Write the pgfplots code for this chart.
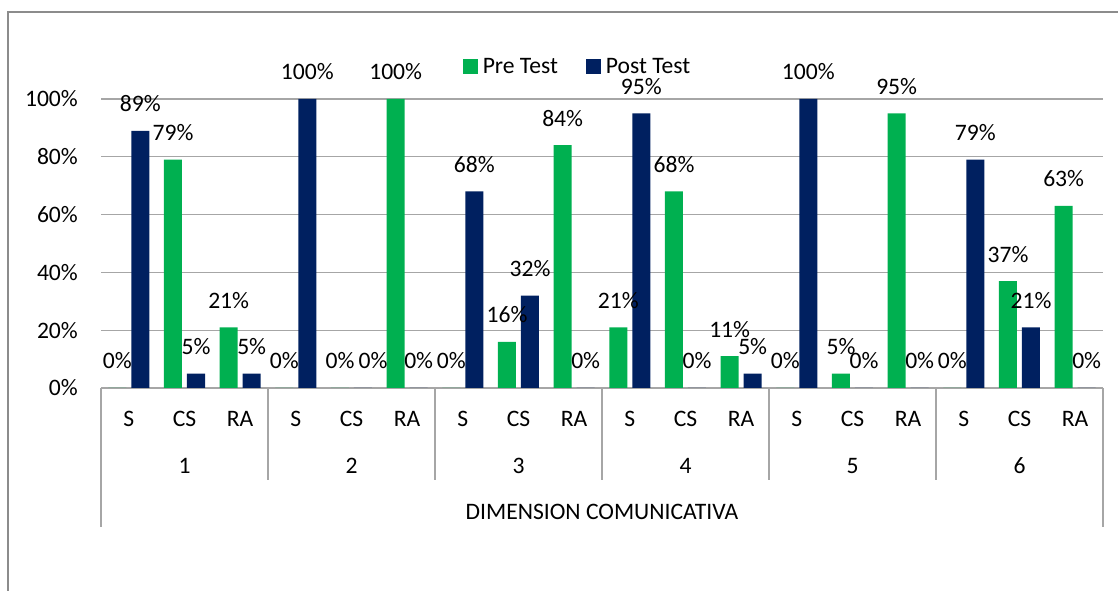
\documentclass[border=0pt]{standalone}
\usepackage{fontspec}
\setmainfont{Carlito}
\usepackage{pgfplots}
\usepackage{pgfplotstable}
\pgfplotsset{compat=1.18}
\definecolor{pre}{HTML}{00B050}
\definecolor{post}{HTML}{002060}
\definecolor{gridc}{HTML}{A6A6A6}
\definecolor{bord}{HTML}{8C8C8C}
\newcommand\cf{\fontsize{23.6bp}{27bp}\selectfont}
\pgfplotstableread{
x pre post ps
0 0 89 0
1 79 5 0
2 21 5 0
3 0 100 0
4 0 0 10
5 100 0 0
6 0 68 0
7 16 32 0
8 84 0 0
9 21 95 0
10 68 0 0
11 11 5 0
12 0 100 0
13 5 0 0
14 95 0 0
15 0 79 0
16 37 21 0
17 63 0 0
}\data
\begin{document}
\begin{tikzpicture}
\useasboundingbox (0,0) rectangle (1118bp,591bp);
\draw[bord, line width=2bp] (7.5bp,0) -- (7.5bp,578.5bp) -- (1118bp,578.5bp);
\begin{axis}[
  at={(101bp,203bp)}, anchor=south west,
  scale only axis, width=1002bp, height=289bp,
  xmin=-0.5, xmax=17.5, ymin=0, ymax=100,
  ybar=5bp, bar width=18bp,
  axis line style={draw=none},
  ymajorgrids, grid style={gridc, line width=1.3bp},
  ytick={0,20,...,100},
  yticklabels={0\%,20\%,40\%,60\%,80\%,100\%},
  xtick={0,...,17},
  xticklabels={S,CS,RA,S,CS,RA,S,CS,RA,S,CS,RA,S,CS,RA,S,CS,RA},
  tick style={draw=none},
  major tick length=0pt,
  tick label style={font=\cf, inner sep=0pt},
  yticklabel style={anchor=east, xshift=-23bp},
  xticklabel style={anchor=base, yshift=-39bp},
  clip=false,
  /pgf/number format/assume math mode=true,
  nodes near coords={\pgfmathprintnumber{\pgfplotspointmeta}\%},
  every node near coord/.append style={font=\cf, anchor=base, inner sep=0pt, yshift=19bp, text=black},
  legend style={at={(0.4756,1.111)}, anchor=center, draw=none, fill=none,
    legend columns=2, font=\cf,
    /tikz/every odd column/.append style={column sep=3bp},
    /tikz/every even column/.append style={column sep=26bp}},
  legend image code/.code={\fill[#1] (0bp,-7.5bp) rectangle (15bp,7.5bp);},
]
\addplot[fill=pre, draw=none] table[x=x,y=pre]{\data};
\addplot[fill=post, draw=none, visualization depends on={\thisrow{ps} \as \ps},
  every node near coord/.append style={xshift=\ps bp}] table[x=x,y=post]{\data};
\legend{Pre Test, Post Test}
\pgfplotsinvokeforeach{2.5,5.5,8.5,11.5,14.5}{
  \draw[gridc, line width=1.3bp] (axis cs:#1,0) -- ++(0bp,-92bp);
}
\draw[gridc, line width=1.3bp] (axis cs:-0.5,0) -- ++(0bp,-139bp);
\draw[gridc, line width=1.3bp] (axis cs:17.5,0) -- ++(0bp,-139bp);
\node[font=\cf, anchor=base, yshift=-85bp] at (axis cs:1,0) {1};
\node[font=\cf, anchor=base, yshift=-85bp] at (axis cs:4,0) {2};
\node[font=\cf, anchor=base, yshift=-85bp] at (axis cs:7,0) {3};
\node[font=\cf, anchor=base, yshift=-85bp] at (axis cs:10,0) {4};
\node[font=\cf, anchor=base, yshift=-85bp] at (axis cs:13,0) {5};
\node[font=\cf, anchor=base, yshift=-85bp] at (axis cs:16,0) {6};
\node[font=\cf, anchor=base, yshift=-131bp] at (axis cs:8.5,0) {DIMENSION COMUNICATIVA};
\end{axis}
\end{tikzpicture}
\end{document}
